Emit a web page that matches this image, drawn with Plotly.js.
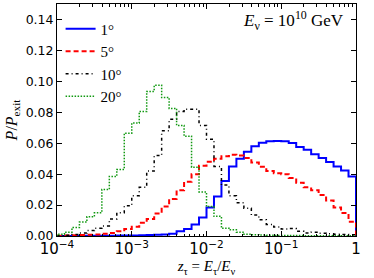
<!DOCTYPE html>
<html><head><meta charset="utf-8">
<script src="https://cdn.plot.ly/plotly-3.0.1.min.js"></script>
<style>html,body{margin:0;padding:0;background:#fff}#chart{width:374px;height:278px}</style>
</head><body><div id="chart"></div>
<script>
// 40 log bins from 1e-4 to 1 (10 per decade)
const binLogStart = -4;
const binsPerDecade = 10;
const nBins = 40;

const labels = ["1°", "5°", "10°", "20°"];

const p1deg = [0,0,0,0.0001,0.0001,0.0001,0.0002,0.0002,0.0003,0.0003,
  0.0004,0.0005,0.0006,0.0008,0.001,0.0015,0.003,0.0045,0.0075,0.012,
  0.0185,0.0255,0.0355,0.045,0.050,0.0545,0.058,0.0603,0.0612,0.0615,
  0.0612,0.0602,0.0575,0.0558,0.0528,0.0504,0.0478,0.045,0.0424,0.0385];

const p5deg = [0.0002,0.0003,0.0005,0.0007,0.0008,0.001,0.0015,0.002,0.003,0.0045,
  0.006,0.0085,0.011,0.0145,0.019,0.024,0.0295,0.035,0.040,0.0455,
  0.048,0.050,0.0515,0.0525,0.052,0.0505,0.0475,0.0448,0.042,0.0405,
  0.040,0.0375,0.0345,0.0315,0.0295,0.0265,0.023,0.0185,0.0148,0.0092];

const p10deg = [0.0002,0.0005,0.001,0.002,0.0035,0.005,0.0065,0.011,0.015,0.0195,
  0.026,0.0315,0.042,0.052,0.068,0.0755,0.0805,0.082,0.082,0.0715,
  0.0625,0.045,0.033,0.026,0.0215,0.018,0.0135,0.0105,0.0075,0.0058,
  0.0045,0.0048,0.003,0.002,0.0025,0.0018,0.0014,0.0012,0.001,0.0008];

const p20deg = [0.0012,0.0025,0.0055,0.009,0.0125,0.015,0.030,0.0385,0.043,0.0665,
  0.073,0.0805,0.0935,0.0975,0.0895,0.0825,0.0715,0.0645,0.0445,0.0285,
  0.019,0.0127,0.005,0.004,0.0025,0.0012,0.0008,0.0006,0.0005,0.0004,
  0.0004,0.0003,0.0003,0.0002,0.0002,0.0002,0.0001,0.0001,0.0001,0.0001];

const yTicks = [0,0.02,0.04,0.06,0.08,0.10,0.12,0.14];

const edges = [];
for (let k = 0; k <= nBins; k++) edges.push(Math.pow(10, binLogStart + k / binsPerDecade));

function stepTrace(vals, name, color, width, dash) {
  const x = [edges[0]], y = [0];
  for (let i = 0; i < vals.length; i++) { x.push(edges[i]); y.push(vals[i]); }
  x.push(edges[nBins]); y.push(vals[vals.length - 1]);
  x.push(edges[nBins]); y.push(0);
  return {x, y, type: 'scatter', mode: 'lines', name,
    line: {shape: 'hv', color, width, dash}, hoverinfo: 'skip'};
}

const data = [
  stepTrace(p1deg, labels[0], '#0000ff', 2, 'solid'),
  stepTrace(p5deg, labels[1], '#ff0000', 2, '5px,3px'),
  stepTrace(p10deg, labels[2], '#000000', 1.5, '3px,3px,1px,3px'),
  stepTrace(p20deg, labels[3], '#119911', 1.5, '1.5px,1.5px')
];

const tickFont = {family: 'DejaVu Sans', size: 12.5, color: '#000'};
const serif = 'Liberation Serif, DejaVu Serif, serif';

const layout = {
  width: 374, height: 278,
  margin: {l: 57, r: 18, t: 4, b: 42, pad: 0},
  paper_bgcolor: '#fff', plot_bgcolor: '#fff',
  showlegend: true,
  legend: {x: 0.012, y: 0.963, xanchor: 'left', yanchor: 'top',
    bgcolor: 'rgba(0,0,0,0)', borderwidth: 0,
    font: {family: serif, size: 15, color: '#000'}},
  xaxis: {type: 'log', range: [-4, 0], dtick: 1, exponentformat: 'power',
    showexponent: 'all',
    ticks: 'inside', ticklen: 5, tickwidth: 1, tickcolor: '#000',
    mirror: 'allticks', showline: true, linecolor: '#000', linewidth: 1,
    showgrid: false, zeroline: false, tickfont: {family: 'DejaVu Sans', size: 12, color: '#000'},
    minor: {dtick: 'D1', ticks: 'inside', ticklen: 2.5, tickcolor: '#000', showgrid: false},
    title: {text: '<i>z</i><sub>τ</sub> = <i>E</i><sub>τ</sub>/<i>E</i><sub>ν</sub>',
      font: {family: serif, size: 15, color: '#000'}, standoff: 2}},
  yaxis: {range: [0, 0.15], tickvals: yTicks, tickformat: '.2f',
    ticks: 'inside', ticklen: 5, tickwidth: 1, tickcolor: '#000',
    mirror: 'allticks', showline: true, linecolor: '#000', linewidth: 1,
    showgrid: false, zeroline: false, tickfont: tickFont,
    title: {text: '<i>P</i>/<i>P</i><sub>exit</sub>',
      font: {family: serif, size: 16, color: '#000'}, standoff: 4}},
  annotations: [{xref: 'paper', yref: 'paper', x: 0.965, y: 0.99,
    xanchor: 'right', yanchor: 'top', showarrow: false,
    text: '<i>E</i><sub>ν</sub> = 10<sup>10</sup> GeV',
    font: {family: serif, size: 17, color: '#000'}}]
};

Plotly.newPlot('chart', data, layout, {staticPlot: true, displayModeBar: false});
</script></body></html>
